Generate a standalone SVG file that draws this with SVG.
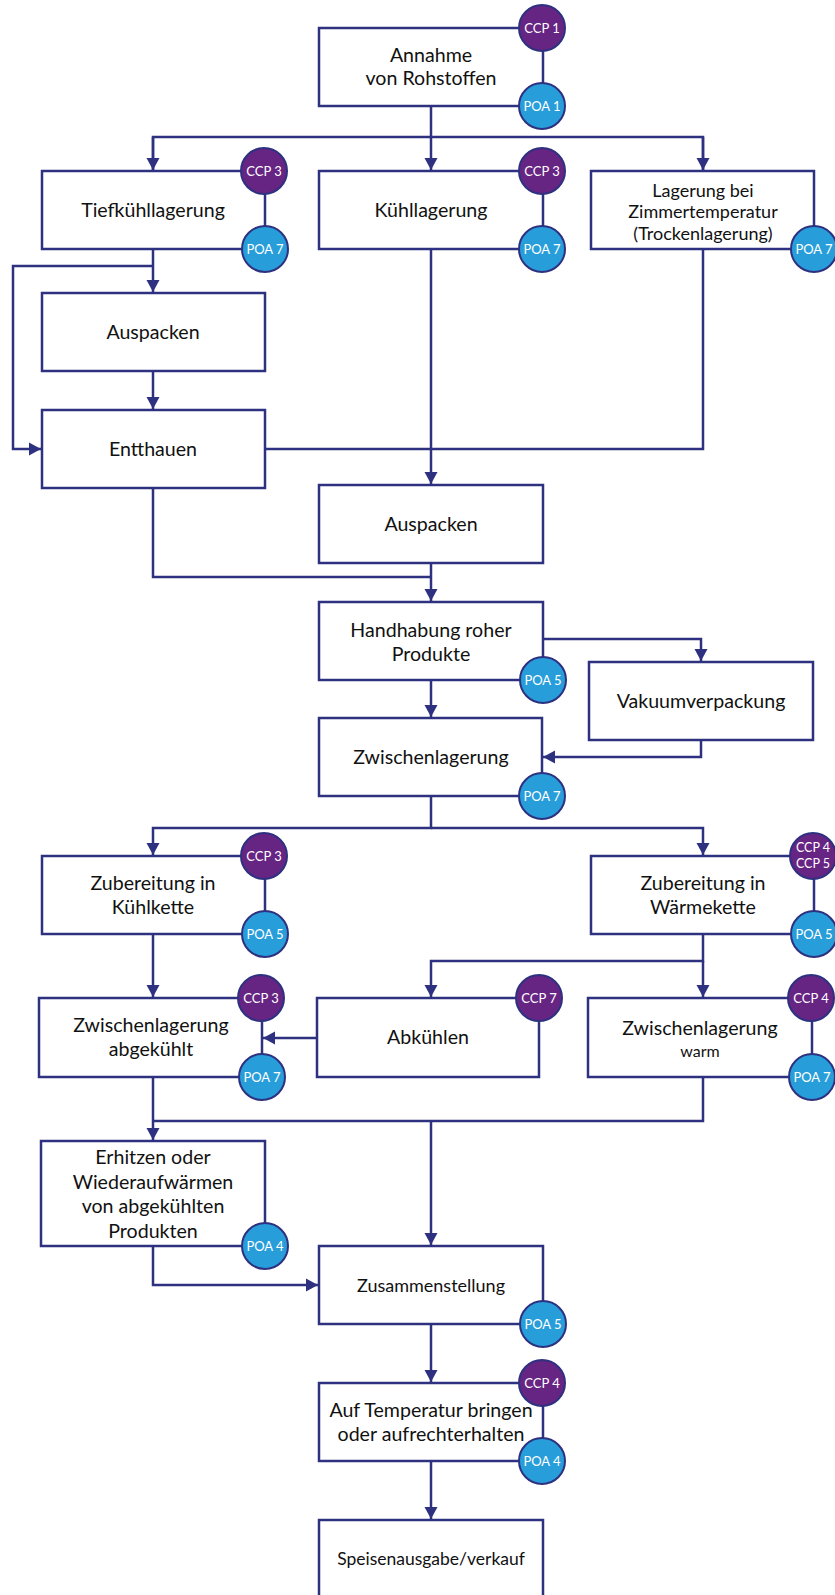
<svg xmlns="http://www.w3.org/2000/svg" width="835" height="1595" viewBox="0 0 835 1595">
<style>
.bx{fill:#fff;stroke:#2e3180;stroke-width:2.5}
.ln{fill:none;stroke:#2e3180;stroke-width:2.5}
.t{font-family:Lato,"Open Sans",sans-serif;font-size:19.6px;fill:#111;text-anchor:middle}
.ccp{fill:#662483;stroke:#2e3180;stroke-width:2}
.poa{fill:#279dd9;stroke:#2e3180;stroke-width:2}
.bt{font-family:Lato,"Open Sans",sans-serif;font-size:13px;fill:#fff;text-anchor:middle}
</style>
<defs>
<marker id="ah" markerUnits="userSpaceOnUse" markerWidth="14" markerHeight="14" refX="12" refY="7" orient="auto">
<path d="M0,0.5 L12,7 L0,13.5 Z" fill="#2e3180"/>
</marker>
</defs>
<rect width="835" height="1595" fill="#fff"/>
<g id="connectors">
<path class="ln" d="M431,106 V170" marker-end="url(#ah)"/>
<path class="ln" d="M153,170 V137 H703 V170" />
<path class="ln" d="M153,137 V170" marker-end="url(#ah)"/>
<path class="ln" d="M703,137 V170" marker-end="url(#ah)"/>
<path class="ln" d="M153,249 V292" marker-end="url(#ah)"/>
<path class="ln" d="M153,266 H13 V449 H41" marker-end="url(#ah)"/>
<path class="ln" d="M153,371 V409" marker-end="url(#ah)"/>
<path class="ln" d="M703,249 V449 H265"/>
<path class="ln" d="M431,249 V484" marker-end="url(#ah)"/>
<path class="ln" d="M153,488 V577 H431"/>
<path class="ln" d="M431,563 V601" marker-end="url(#ah)"/>
<path class="ln" d="M543,639 H701 V661" marker-end="url(#ah)"/>
<path class="ln" d="M431,680 V717" marker-end="url(#ah)"/>
<path class="ln" d="M701,740 V757 H543" marker-end="url(#ah)"/>
<path class="ln" d="M431,796 V828 H153 V855" marker-end="url(#ah)"/>
<path class="ln" d="M431,828 H703 V855" marker-end="url(#ah)"/>
<path class="ln" d="M153,934 V997" marker-end="url(#ah)"/>
<path class="ln" d="M703,934 V961 H431 V997" marker-end="url(#ah)"/>
<path class="ln" d="M703,961 V997" marker-end="url(#ah)"/>
<path class="ln" d="M317,1038 H263" marker-end="url(#ah)"/>
<path class="ln" d="M153,1077 V1140" marker-end="url(#ah)"/>
<path class="ln" d="M153,1121 H703 V1077"/>
<path class="ln" d="M431,1121 V1245" marker-end="url(#ah)"/>
<path class="ln" d="M153,1246 V1285 H318" marker-end="url(#ah)"/>
<path class="ln" d="M431,1324 V1382" marker-end="url(#ah)"/>
<path class="ln" d="M431,1461 V1519" marker-end="url(#ah)"/>
</g>
<g id="annahme">
<rect class="bx" x="319" y="28" width="224" height="78"/>
<text class="t" x="431" y="62">Annahme</text>
<text class="t" x="431" y="85">von Rohstoffen</text>
<circle class="ccp" cx="542" cy="28" r="23"/><text class="bt" x="542" y="32.5">CCP 1</text>
<circle class="poa" cx="542" cy="106" r="23"/><text class="bt" x="542" y="110.5">POA 1</text>
</g>
<g id="tiefkuehl">
<rect class="bx" x="42" y="171" width="223" height="78"/>
<text class="t" x="153" y="217">Tiefkühllagerung</text>
<circle class="ccp" cx="264" cy="171" r="23"/><text class="bt" x="264" y="175.5">CCP 3</text>
<circle class="poa" cx="265" cy="249" r="23"/><text class="bt" x="265" y="253.5">POA 7</text>
</g>
<g id="kuehl">
<rect class="bx" x="319" y="171" width="224" height="78"/>
<text class="t" x="431" y="217">Kühllagerung</text>
<circle class="ccp" cx="542" cy="171" r="23"/><text class="bt" x="542" y="175.5">CCP 3</text>
<circle class="poa" cx="542" cy="249" r="23"/><text class="bt" x="542" y="253.5">POA 7</text>
</g>
<g id="lagerung">
<rect class="bx" x="591" y="171" width="223" height="78"/>
<text class="t" x="703" y="197" style="font-size:18px">Lagerung bei</text>
<text class="t" x="703" y="218" style="font-size:18px">Zimmertemperatur</text>
<text class="t" x="703" y="240" style="font-size:18px">(Trockenlagerung)</text>
<circle class="poa" cx="814" cy="249" r="23"/><text class="bt" x="814" y="253.5">POA 7</text>
</g>
<g id="auspacken1">
<rect class="bx" x="42" y="293" width="223" height="78"/>
<text class="t" x="153" y="339">Auspacken</text>
</g>
<g id="entthauen">
<rect class="bx" x="42" y="410" width="223" height="78"/>
<text class="t" x="153" y="456">Entthauen</text>
</g>
<g id="auspacken2">
<rect class="bx" x="319" y="485" width="224" height="78"/>
<text class="t" x="431" y="531">Auspacken</text>
</g>
<g id="handhabung">
<rect class="bx" x="319" y="602" width="224" height="78"/>
<text class="t" x="431" y="637">Handhabung roher</text>
<text class="t" x="431" y="661">Produkte</text>
<circle class="poa" cx="543" cy="680" r="23"/><text class="bt" x="543" y="684.5">POA 5</text>
</g>
<g id="vakuum">
<rect class="bx" x="589" y="662" width="224" height="78"/>
<text class="t" x="701" y="708">Vakuumverpackung</text>
</g>
<g id="zwischenlagerung">
<rect class="bx" x="319" y="718" width="223" height="78"/>
<text class="t" x="431" y="764">Zwischenlagerung</text>
<circle class="poa" cx="542" cy="796" r="23"/><text class="bt" x="542" y="800.5">POA 7</text>
</g>
<g id="zub-kuehl">
<rect class="bx" x="42" y="856" width="223" height="78"/>
<text class="t" x="153" y="890">Zubereitung in</text>
<text class="t" x="153" y="914">Kühlkette</text>
<circle class="ccp" cx="264" cy="856" r="23"/><text class="bt" x="264" y="860.5">CCP 3</text>
<circle class="poa" cx="265" cy="934" r="23"/><text class="bt" x="265" y="938.5">POA 5</text>
</g>
<g id="zub-waerme">
<rect class="bx" x="591" y="856" width="223" height="78"/>
<text class="t" x="703" y="890">Zubereitung in</text>
<text class="t" x="703" y="914">Wärmekette</text>
<circle class="ccp" cx="813" cy="856" r="23"/>
<text class="bt" x="813" y="852" style="font-size:12.5px">CCP 4</text>
<text class="bt" x="813" y="868" style="font-size:12.5px">CCP 5</text>
<circle class="poa" cx="814" cy="934" r="23"/><text class="bt" x="814" y="938.5">POA 5</text>
</g>
<g id="zw-abgekuehlt">
<rect class="bx" x="39" y="998" width="223" height="79"/>
<text class="t" x="151" y="1032">Zwischenlagerung</text>
<text class="t" x="151" y="1056">abgekühlt</text>
<circle class="ccp" cx="261" cy="998" r="23"/><text class="bt" x="261" y="1002.5">CCP 3</text>
<circle class="poa" cx="262" cy="1077" r="23"/><text class="bt" x="262" y="1081.5">POA 7</text>
</g>
<g id="abkuehlen">
<rect class="bx" x="317" y="998" width="222" height="79"/>
<text class="t" x="428" y="1044">Abkühlen</text>
<circle class="ccp" cx="539" cy="998" r="23"/><text class="bt" x="539" y="1002.5">CCP 7</text>
</g>
<g id="zw-warm">
<rect class="bx" x="588" y="998" width="224" height="79"/>
<text class="t" x="700" y="1035">Zwischenlagerung</text>
<text class="t" x="700" y="1057" style="font-size:16px">warm</text>
<circle class="ccp" cx="811" cy="998" r="23"/><text class="bt" x="811" y="1002.5">CCP 4</text>
<circle class="poa" cx="812" cy="1077" r="23"/><text class="bt" x="812" y="1081.5">POA 7</text>
</g>
<g id="erhitzen">
<rect class="bx" x="41" y="1141" width="224" height="105"/>
<text class="t" x="153" y="1164">Erhitzen oder</text>
<text class="t" x="153" y="1189">Wiederaufwärmen</text>
<text class="t" x="153" y="1213">von abgekühlten</text>
<text class="t" x="153" y="1238">Produkten</text>
<circle class="poa" cx="265" cy="1246" r="23"/><text class="bt" x="265" y="1250.5">POA 4</text>
</g>
<g id="zusammenstellung">
<rect class="bx" x="319" y="1246" width="224" height="78"/>
<text class="t" x="431" y="1292" style="font-size:18px">Zusammenstellung</text>
<circle class="poa" cx="543" cy="1324" r="23"/><text class="bt" x="543" y="1328.5">POA 5</text>
</g>
<g id="auf-temperatur">
<rect class="bx" x="319" y="1383" width="224" height="78"/>
<text class="t" x="431" y="1417">Auf Temperatur bringen</text>
<text class="t" x="431" y="1441">oder aufrechterhalten</text>
<circle class="ccp" cx="542" cy="1383" r="23"/><text class="bt" x="542" y="1387.5">CCP 4</text>
<circle class="poa" cx="542" cy="1461" r="23"/><text class="bt" x="542" y="1465.5">POA 4</text>
</g>
<g id="speisenausgabe">
<rect class="bx" x="319" y="1520" width="224" height="80"/>
<text class="t" x="431" y="1565" style="font-size:17.5px">Speisenausgabe/verkauf</text>
</g>
</svg>
